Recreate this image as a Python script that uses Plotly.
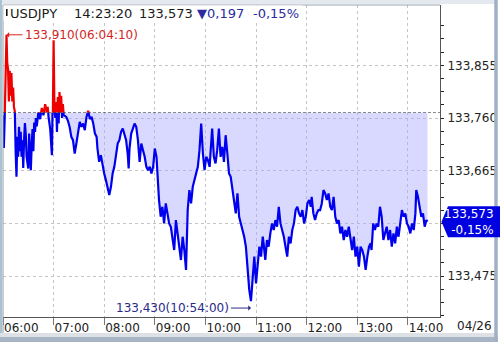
import plotly.graph_objects as go

# ---------------- data ----------------
symbol = "USDJPY"
date_label = "04/26"
prev_close = 133.770
change = -0.197
change_pct = -0.15

times = [
    "06:00", "06:01", "06:02", "06:03", "06:04:10", "06:05", "06:06", "06:07", "06:08", "06:09",
    "06:10", "06:11", "06:12", "06:13", "06:14", "06:15", "06:16", "06:17", "06:18", "06:19",
    "06:20", "06:21", "06:22", "06:23", "06:24", "06:25", "06:26", "06:27", "06:28", "06:30",
    "06:31", "06:32", "06:33", "06:34", "06:35", "06:36", "06:37", "06:38", "06:39", "06:40",
    "06:42", "06:44", "06:46", "06:48", "06:50", "06:52", "06:53", "06:54", "06:56", "06:58",
    "06:59", "07:00", "07:01", "07:02", "07:03", "07:04", "07:05", "07:06", "07:07", "07:08",
    "07:09", "07:10", "07:11", "07:12", "07:15", "07:17", "07:19", "07:21", "07:23", "07:25",
    "07:27", "07:29", "07:31", "07:33", "07:35", "07:37", "07:39", "07:41", "07:43", "07:45",
    "07:47", "07:49", "07:51", "07:52", "07:54", "07:56", "07:58", "08:00", "08:02", "08:04",
    "08:06", "08:08", "08:10", "08:12", "08:14", "08:16", "08:18", "08:20", "08:22", "08:24",
    "08:26", "08:28", "08:29", "08:30", "08:32", "08:34", "08:36", "08:38", "08:40", "08:42",
    "08:44", "08:46", "08:48", "08:50", "08:52", "08:54", "08:56", "08:58", "09:00", "09:02",
    "09:04", "09:05", "09:07", "09:09", "09:11", "09:13", "09:15", "09:17", "09:19", "09:21",
    "09:23", "09:25", "09:27", "09:29", "09:31", "09:33", "09:35", "09:37", "09:39", "09:41",
    "09:43", "09:45", "09:47", "09:49", "09:51", "09:53", "09:55", "09:57", "09:59", "10:01",
    "10:03", "10:05", "10:06", "10:08", "10:10", "10:12", "10:14", "10:16", "10:18", "10:20",
    "10:22", "10:24", "10:26", "10:28", "10:30", "10:32", "10:34", "10:36", "10:38", "10:40",
    "10:42", "10:44", "10:46", "10:48", "10:50", "10:52", "10:54", "10:56", "10:58", "11:00",
    "11:02", "11:04", "11:06", "11:08", "11:09", "11:11", "11:13", "11:15", "11:17", "11:19",
    "11:21", "11:23", "11:25", "11:27", "11:29", "11:31", "11:33", "11:35", "11:37", "11:39",
    "11:41", "11:43", "11:45", "11:47", "11:49", "11:51", "11:53", "11:55", "11:57", "11:59",
    "12:01", "12:03", "12:05", "12:06", "12:08", "12:10", "12:12", "12:14", "12:16", "12:18",
    "12:20", "12:22", "12:24", "12:26", "12:28", "12:30", "12:32", "12:34", "12:36", "12:38",
    "12:40", "12:42", "12:44", "12:46", "12:48", "12:50", "12:52", "12:54", "12:56", "12:58",
    "13:00", "13:02", "13:04", "13:06", "13:08", "13:10", "13:12", "13:14", "13:16", "13:17",
    "13:19", "13:21", "13:23", "13:25", "13:27", "13:29", "13:31", "13:33", "13:35", "13:37",
    "13:39", "13:41", "13:43", "13:45", "13:47", "13:49", "13:51", "13:53", "13:55", "13:57",
    "13:59", "14:01", "14:03", "14:05", "14:07", "14:09", "14:10", "14:12", "14:14", "14:16",
    "14:18", "14:20", "14:22", "14:23:20",
]

prices = [
    133.765, 133.706, 133.760, 133.850, 133.910, 133.860, 133.848, 133.790, 133.845, 133.800,
    133.841, 133.790, 133.815, 133.780, 133.772, 133.700, 133.654, 133.726, 133.690, 133.744,
    133.700, 133.735, 133.690, 133.720, 133.670, 133.720, 133.751, 133.730, 133.690, 133.669,
    133.732, 133.700, 133.666, 133.710, 133.740, 133.700, 133.752, 133.735, 133.760, 133.745,
    133.770, 133.758, 133.778, 133.765, 133.785, 133.770, 133.780, 133.762, 133.740, 133.693,
    133.750, 133.900, 133.780, 133.760, 133.789, 133.735, 133.798, 133.750, 133.807, 133.770,
    133.800, 133.760, 133.785, 133.765, 133.762, 133.755, 133.744, 133.726, 133.720, 133.696,
    133.714, 133.732, 133.753, 133.744, 133.750, 133.738, 133.762, 133.773, 133.758, 133.762,
    133.750, 133.732, 133.726, 133.705, 133.681, 133.693, 133.672, 133.660, 133.648, 133.633,
    133.621, 133.636, 133.660, 133.672, 133.690, 133.714, 133.720, 133.735, 133.741, 133.732,
    133.720, 133.693, 133.669, 133.705, 133.732, 133.741, 133.750, 133.744, 133.720, 133.681,
    133.714, 133.702, 133.690, 133.672, 133.666, 133.672, 133.660, 133.672, 133.705, 133.690,
    133.630, 133.612, 133.582, 133.600, 133.570, 133.606, 133.588, 133.570, 133.564, 133.540,
    133.522, 133.576, 133.552, 133.528, 133.504, 133.546, 133.522, 133.486, 133.594, 133.630,
    133.606, 133.636, 133.648, 133.660, 133.672, 133.702, 133.750, 133.696, 133.666, 133.690,
    133.684, 133.672, 133.702, 133.741, 133.690, 133.678, 133.702, 133.741, 133.690, 133.708,
    133.681, 133.729, 133.696, 133.660, 133.654, 133.630, 133.612, 133.588, 133.624, 133.582,
    133.570, 133.558, 133.546, 133.528, 133.486, 133.450, 133.430, 133.474, 133.510, 133.462,
    133.498, 133.528, 133.510, 133.546, 133.534, 133.504, 133.540, 133.528, 133.552, 133.570,
    133.558, 133.576, 133.564, 133.600, 133.570, 133.558, 133.546, 133.528, 133.510, 133.546,
    133.534, 133.558, 133.570, 133.594, 133.600, 133.588, 133.582, 133.594, 133.570, 133.582,
    133.606, 133.612, 133.600, 133.618, 133.588, 133.576, 133.588, 133.594, 133.594, 133.606,
    133.630, 133.624, 133.612, 133.624, 133.600, 133.594, 133.618, 133.582, 133.570, 133.576,
    133.552, 133.564, 133.540, 133.558, 133.546, 133.564, 133.540, 133.522, 133.546, 133.510,
    133.528, 133.492, 133.528, 133.522, 133.510, 133.486, 133.510, 133.528, 133.534, 133.522,
    133.570, 133.558, 133.570, 133.564, 133.600, 133.582, 133.540, 133.552, 133.564, 133.540,
    133.558, 133.528, 133.552, 133.534, 133.564, 133.546, 133.570, 133.594, 133.582, 133.588,
    133.570, 133.564, 133.552, 133.570, 133.558, 133.588, 133.630, 133.618, 133.600, 133.582,
    133.588, 133.564, 133.576, 133.573,
]

hour_ticks = ["06:00", "07:00", "08:00", "09:00", "10:00", "11:00", "12:00", "13:00", "14:00"]
y_major = [133.475, 133.570, 133.665, 133.760, 133.855]
y_major_labels = ["133,475", "", "133,665", "133,760", "133,855"]
y_minor = [133.40375, 133.4275, 133.45125, 133.49875, 133.5225, 133.54625, 133.59375,
           133.6175, 133.64125, 133.68875, 133.7125, 133.73625, 133.78375, 133.8075,
           133.83125, 133.87875, 133.9025, 133.92625]

# ---------------- layout constants ----------------
W, H = 500, 342
L, R, T, B = 3, 442, 5, 317          # plot area in pixels
Y_BOT, Y_TOP = 133.40125, 133.96372   # axis range
X_END = "14:38:10"
DAY = "2023-04-26 "
FONT = "DejaVu Sans"

BLUE = "#0000ee"
RED = "#ee0000"
GRID = "#c4c4c4"


def ts(t):
    return DAY + (t if len(t) == 8 else t + ":00")


def full_time(t):
    return t if len(t) == 8 else t + ":00"


def fmt(v):
    return f"{v:.3f}".replace(".", ",")


def pct(v):
    return f"{v:.2f}".replace(".", ",") + "%"


def px(xp):
    return (xp - L) / (R - L)


def py(yp):
    return (B - yp) / (B - T)


x = [ts(t) for t in times]
split = (prev_close - Y_BOT) / (Y_TOP - Y_BOT)
last_price = prices[-1]

fig = go.Figure()
# baseline at previous close (for fill)
fig.add_trace(go.Scatter(x=x, y=[prev_close] * len(x), mode="lines",
                         line=dict(width=0, color="rgba(0,0,0,0)"),
                         hoverinfo="skip", showlegend=False, xaxis="x", yaxis="y"))
fig.add_trace(go.Scatter(x=x, y=prices, mode="lines", fill="tonexty",
                         fillcolor="rgba(170,170,255,0.45)",
                         line=dict(width=0, color="rgba(0,0,0,0)"),
                         hoverinfo="skip", showlegend=False, xaxis="x", yaxis="y"))
# below previous close: blue
fig.add_trace(go.Scatter(x=x, y=prices, mode="lines",
                         line=dict(width=2.2, color=BLUE),
                         hoverinfo="skip", showlegend=False, xaxis="x", yaxis="y"))
# above previous close: red
fig.add_trace(go.Scatter(x=x, y=prices, mode="lines",
                         line=dict(width=2.2, color=RED),
                         hoverinfo="skip", showlegend=False, xaxis="x", yaxis="y2"))

low_major = [v for v in y_major if v < prev_close]
low_labels = [l for v, l in zip(y_major, y_major_labels) if v < prev_close]
high_major = [v for v in y_major if v > prev_close]
high_labels = [l for v, l in zip(y_major, y_major_labels) if v > prev_close]

yaxis_common = dict(
    side="right", anchor="x", showline=True, linecolor="#555", linewidth=1,
    ticks="outside", ticklen=3, tickcolor="#222", tickwidth=1,
    tickfont=dict(family=FONT, size=12, color="#222"),
    showgrid=True, gridcolor=GRID, griddash="3px,3px", gridwidth=1,
    zeroline=False, fixedrange=True, ticklabelstandoff=1,
)

fig.update_layout(
    width=W, height=H, autosize=False,
    margin=dict(l=L, r=W - R, t=T, b=H - B, pad=0),
    paper_bgcolor="white", plot_bgcolor="white",
    showlegend=False, hovermode=False,
    xaxis=dict(
        type="date", range=[ts("06:00"), ts(X_END)], anchor="y",
        showline=True, linecolor="#555", linewidth=1,
        ticks="outside", ticklen=7, tickcolor="#777",
        tickvals=[ts(h) for h in hour_ticks], tickformat="%H:%M",
        ticklabelposition="outside right",
        tickfont=dict(family=FONT, size=12, color="#222"),
        showgrid=True, gridcolor=GRID, griddash="3px,3px", gridwidth=1,
        zeroline=False, fixedrange=True,
    ),
    yaxis=dict(domain=[0, split], range=[Y_BOT, prev_close],
               tickvals=low_major, ticktext=low_labels,
               minor=dict(tickvals=[v for v in y_minor if v < prev_close],
                          ticks="outside", ticklen=3, tickcolor="#222", showgrid=False),
               **yaxis_common),
    yaxis2=dict(domain=[split, 1], range=[prev_close, Y_TOP],
                tickvals=high_major, ticktext=high_labels,
                minor=dict(tickvals=[v for v in y_minor if v > prev_close],
                           ticks="outside", ticklen=3, tickcolor="#222", showgrid=False),
                **yaxis_common),
)

shapes = []
# window frame
shapes.append(dict(type="rect", xref="paper", yref="paper", x0=px(0), x1=px(W), y0=py(0), y1=py(4),
                   fillcolor="#e4e9ef", line_width=0, layer="above"))
shapes.append(dict(type="rect", xref="paper", yref="paper", x0=px(0), x1=px(2), y0=py(H), y1=py(0),
                   fillcolor="#a9c3d3", line_width=0, layer="above"))
shapes.append(dict(type="rect", xref="paper", yref="paper", x0=px(0), x1=px(W), y0=py(H), y1=py(333),
                   fillcolor="#dde1e6", line_width=0, layer="above"))
shapes.append(dict(type="rect", xref="paper", yref="paper", x0=px(0), x1=px(W), y0=py(H), y1=py(337),
                   fillcolor="#a7b5c7", line_width=0, layer="above"))
shapes.append(dict(type="rect", xref="paper", yref="paper", x0=px(496.5), x1=px(W), y0=py(H), y1=py(0),
                   fillcolor="#a0b0c4", line_width=0, layer="above"))
# plot frame top / left
shapes.append(dict(type="line", xref="paper", yref="paper", x0=0, x1=1, y0=1, y1=1,
                   line=dict(color="#9aa4ae", width=1), layer="above"))
shapes.append(dict(type="line", xref="paper", yref="paper", x0=0, x1=0, y0=py(333), y1=1,
                   line=dict(color="#8e9aa6", width=1), layer="above"))
# header background and marker
shapes.append(dict(type="rect", xref="paper", yref="paper", x0=px(3.5), x1=px(304), y0=py(21), y1=py(5.5),
                   fillcolor="white", line_width=0, layer="above"))
shapes.append(dict(type="rect", xref="paper", yref="paper", x0=px(6), x1=px(7.6), y0=py(16), y1=py(9),
                   fillcolor="#111", line_width=0, layer="above"))
# previous-close reference line
shapes.append(dict(type="line", xref="paper", yref="y", x0=0, x1=1, y0=prev_close, y1=prev_close,
                   line=dict(color="#111", width=1, dash="3px,2px"), layer="above"))
# current price tag
shapes.append(dict(type="path", xref="paper", yref="y", xsizemode="pixel", ysizemode="pixel",
                   xanchor=1, yanchor=last_price,
                   path="M 1.5,0 L 8,-15.5 L 60,-15.5 L 60,15.5 L 8,15.5 Z",
                   fillcolor="#0000e0", line_width=0, layer="above"))

annotations = []
hdr_y = py(13)
header = [
    (symbol, 8, "#1a1a1a"),
    ("14:23:20", 72, "#1a1a1a"),
    (fmt(last_price), 138, "#1a1a1a"),
    ("\u25bc" + fmt(abs(change)), 196, "#2b2ba0"),
    (pct(change_pct), 252, "#2b2ba0"),
]
for txt, xp, col in header:
    annotations.append(dict(xref="paper", yref="paper", x=px(xp), y=hdr_y, xanchor="left",
                            yanchor="middle", text=txt, showarrow=False,
                            font=dict(family=FONT, size=13, color=col)))

imax = prices.index(max(prices))
imin = prices.index(min(prices))
annotations.append(dict(xref="x", yref="y2", x=x[imax], y=prices[imax],
                        text=f"{fmt(prices[imax])}({full_time(times[imax])})",
                        showarrow=True, ax=16, ay=0, axref="pixel", ayref="pixel",
                        xanchor="left", yanchor="middle",
                        arrowhead=1, arrowsize=0.9, arrowwidth=1, arrowcolor="#d42424",
                        font=dict(family=FONT, size=12, color="#d42424")))
annotations.append(dict(xref="x", yref="y", x=x[imin], y=prices[imin],
                        text=f"{fmt(prices[imin])}({full_time(times[imin])})",
                        showarrow=True, ax=-20, ay=0, axref="pixel", ayref="pixel",
                        xanchor="right", yanchor="middle", yshift=-7,
                        arrowhead=1, arrowsize=0.9, arrowwidth=1, arrowcolor="#2a2a88",
                        font=dict(family=FONT, size=12, color="#2a2a88")))
# current price tag text
annotations.append(dict(xref="paper", yref="y", x=px(498), y=last_price, xanchor="right",
                        yanchor="middle", align="right", showarrow=False,
                        text=f"{fmt(last_price)}<br>{pct(change_pct)}",
                        font=dict(family=FONT, size=12, color="white")))
# date label
annotations.append(dict(xref="paper", yref="paper", x=px(496), y=py(326.5), xanchor="right",
                        yanchor="middle", showarrow=False, text=date_label,
                        font=dict(family=FONT, size=12, color="#222")))

fig.update_layout(shapes=shapes, annotations=annotations)
fig.write_html("out.html")
